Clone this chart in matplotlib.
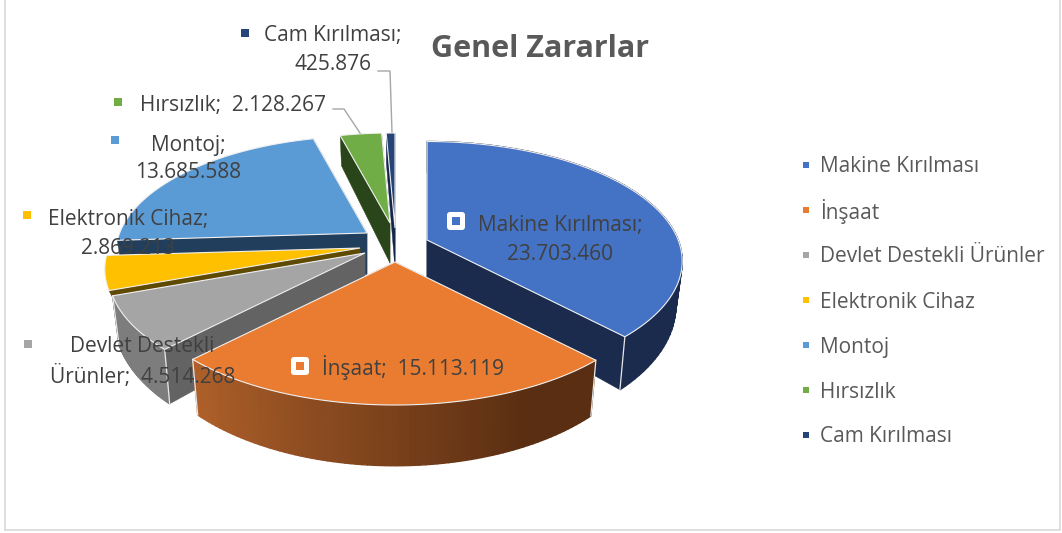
import numpy as np
import matplotlib
matplotlib.use('Agg')
from matplotlib import pyplot as plt
from matplotlib.patches import FancyBboxPatch, Rectangle

categories = ['Makine Kırılması', 'İnşaat', 'Devlet Destekli Ürünler', 'Elektronik Cihaz',
              'Montoj', 'Hırsızlık', 'Cam Kırılması']
values = [23703460, 15113119, 4514268, 2869213, 13685588, 2128267, 425876]
value_labels = ['23.703.460', '15.113.119', '4.514.268', '2.869.213', '13.685.588', '2.128.267', '425.876']
title = 'Genel Zararlar'

top_colors = ['#4472c4', '#e97c30', '#a5a5a5', '#ffc000', '#5b9bd5', '#70ad47', '#264478']
face_colors = ['#1a2b4e', '#6b3a17', '#636363', '#5e4a00', '#213f5c', '#2b451b', '#14264a']
# exploded slices: where the tip of each slice ends up, in figure pixels
tips = [(427, 240), (395, 262), (365, 253), (360, 248), (367, 233), (390, 223), (395, 228)]
radius_scale = [0.985, 1, 0.99, 0.985, 0.97, 0.9, 0.95]
depth_scale = [1, 1, 1, 0.25, 1, 1, 1]
has_wall = [True, True, True, False, False, False, False]
draw_order = [6, 5, 4, 3, 2, 0, 1]

RX, RY, K = 255, 117.7, 0.177
TEXT = '#595959'
LABEL_TEXT = '#404040'
plt.rcParams['font.family'] = ['Open Sans', 'DejaVu Sans']


def top_point(theta, tip, scale):
    u, v = np.sin(theta), -np.cos(theta)
    w = 1 - K * v
    return tip[0] + scale * RX * u / w, tip[1] + scale * RY * v / w


def drop(x, y, tip, depth=1):
    # perspective: the bottom of the pie is a bit narrower, depth grows toward the viewer
    d = (30 + (y - 133) * 0.113) * depth
    return tip[0] + (x - tip[0]) * 0.975, y + d


def mix(c1, c2, t):
    a, b = matplotlib.colors.to_rgb(c1), matplotlib.colors.to_rgb(c2)
    return tuple(a[i] + (b[i] - a[i]) * t for i in range(3))


fig = plt.figure(figsize=(10.62, 5.33), dpi=100)
ax = fig.add_axes([0, 0, 1, 1])
ax.set_xlim(0, 1062)
ax.set_ylim(533, 0)
ax.axis('off')
ax.add_patch(Rectangle((4.5, -2), 1055, 532, fc='white', ec='#d9d9d9', lw=1.2))

edges = np.cumsum([0] + values) / sum(values) * 2 * np.pi

for i in draw_order:
    tip, s = tips[i], radius_scale[i]
    th = np.linspace(edges[i], edges[i + 1], 80)
    xs, ys = top_point(th, tip, s)
    bx, by = drop(xs, ys, tip, depth_scale[i])
    tbx, tby = drop(tip[0], tip[1], tip, depth_scale[i])

    # cut faces along both straight edges
    for k in (0, -1):
        ax.fill([tip[0], xs[k], bx[k], tbx], [tip[1], ys[k], by[k], tby],
                fc=face_colors[i], ec=face_colors[i], lw=0.3, zorder=1)

    # outer wall, in strips so that the shading can change along the rim
    if has_wall[i]:
        for j in range(len(th) - 1):
            if i == 1:
                c = mix('#b0612a', '#5a2e12', min(1, (edges[i + 1] - th[j]) / (edges[i + 1] - edges[i]) * 1.25))
            elif i == 2:
                c = '#7d7d7d'
            else:
                c = face_colors[i]
            ax.fill([xs[j], xs[j + 1], bx[j + 1], bx[j]], [ys[j], ys[j + 1], by[j + 1], by[j]],
                    fc=c, ec=c, lw=1.0, zorder=1)
        for k in (0, -1):
            ax.plot([xs[k], bx[k]], [ys[k], by[k]], color='#e8e8e8', lw=0.9, zorder=1)

    ax.fill(np.r_[tip[0], xs], np.r_[tip[1], ys], fc=top_colors[i], ec='#f0f0f0', lw=0.8, zorder=1)

# leader lines
ax.plot([333, 344, 360], [109, 109, 133], color='#a6a6a6', lw=1, zorder=2)
ax.plot([378, 390, 392], [71, 71, 132], color='#a6a6a6', lw=1, zorder=2)

ax.text(540, 49, title, fontsize=22, fontweight='bold', color=TEXT, ha='center', va='center', zorder=3)

# legend
for i, (name, y) in enumerate(zip(categories, [165, 210, 255, 300, 345, 390, 435])):
    ax.plot(806, y, 's', ms=5, color=top_colors[i], mew=0, zorder=3)
    ax.text(820, y + 2, name, fontsize=15, color=TEXT, ha='left', va='center', zorder=3)

# data labels: text lines, then the little key squares
label_lines = [
    [(560, 225, categories[0] + ';'), (560, 254, value_labels[0])],
    [(413, 368, categories[1] + ';  ' + value_labels[1])],
    [(142, 347, 'Devlet Destekli'), (143, 376, 'Ürünler;  ' + value_labels[2])],
    [(128, 219, categories[3] + ';'), (128, 248, value_labels[3])],
    [(188, 145, categories[4] + ';'), (188, 173, value_labels[4])],
    [(233, 105, categories[5] + ';  ' + value_labels[5])],
    [(333, 36, categories[6] + ';'), (333, 65, value_labels[6])],
]
for lines in label_lines:
    for x, y, s in lines:
        ax.text(x, y, s, fontsize=15, color=LABEL_TEXT, ha='center', va='center', zorder=4)

key_pos = [(456, 221), (300, 366), (28, 344), (27, 215), (115, 140), (118, 102), (245, 33)]
for i, (x, y) in enumerate(key_pos):
    if i < 2:
        ax.add_patch(FancyBboxPatch((x - 6, y - 6), 12, 12, boxstyle='round,pad=3,rounding_size=3',
                                    fc='white', ec='none', zorder=3))
    ax.plot(x, y, 's', ms=5.5, color=top_colors[i], mew=0, zorder=4)

plt.savefig('out.png', dpi=100)
plt.close()
